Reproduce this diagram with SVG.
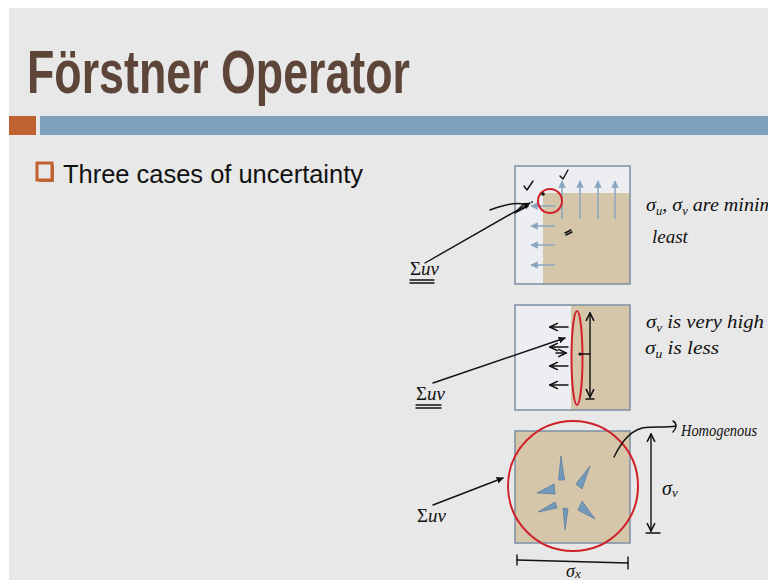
<svg xmlns="http://www.w3.org/2000/svg" width="768" height="580" viewBox="0 0 768 580">
<defs>
<style>
.panel{stroke:#7b8ea3;stroke-width:1.5}
.tan{fill:#d5c6aa}
.light{fill:#eceef1}
.blue{stroke:#8aa5bf;stroke-width:1.5;fill:none}
.ink{stroke:#111;stroke-width:1.4;fill:none;stroke-linecap:round;stroke-linejoin:round}
.red{stroke:#d0202a;stroke-width:2;fill:none}
.tri{fill:#7399bb;stroke:#5d7f9e;stroke-width:0.8}
.hand{font-family:"Liberation Serif",serif;font-style:italic;fill:#111}
.sig{font-family:"Liberation Serif",serif;fill:#111;font-size:19px}
</style>
<marker id="bh" viewBox="0 0 10 10" refX="9" refY="5" markerWidth="5" markerHeight="5" orient="auto-start-reverse">
<path d="M0,0 L10,5 L0,10 z" fill="#8aa5bf"/>
</marker>
<marker id="kh" viewBox="0 0 10 10" refX="9" refY="5" markerWidth="5" markerHeight="5" orient="auto-start-reverse">
<path d="M0,0 L10,5 L0,10 z" fill="#111"/>
</marker>
<marker id="ko" viewBox="0 0 10 10" refX="9" refY="5" markerWidth="7" markerHeight="7" orient="auto-start-reverse">
<path d="M1,1 L9,5 L1,9" fill="none" stroke="#111" stroke-width="1.6"/>
</marker>
</defs>
<rect width="768" height="580" fill="#ffffff"/>
<rect x="9" y="8" width="759" height="572" fill="#e8e8e8"/>

<g id="title">
<text x="27" y="93" font-family="'Liberation Sans Narrow','Liberation Sans',sans-serif" font-weight="bold" font-size="62" fill="#5e4539" textLength="383" lengthAdjust="spacingAndGlyphs">Förstner Operator</text>
<rect x="9" y="116" width="27" height="19" fill="#c0622f"/>
<rect x="40" y="116" width="728" height="19" fill="#7fa0ba"/>
</g>

<g id="bullet">
<rect x="39" y="165" width="15" height="17" fill="#b9714a"/>
<rect x="37" y="163" width="15" height="17" fill="#e8e8e8" stroke="#c0622f" stroke-width="3"/>
<text x="63" y="183" font-family="'Liberation Sans',Arial,sans-serif" font-size="26" fill="#111" textLength="300" lengthAdjust="spacingAndGlyphs">Three cases of uncertainty</text>
</g>

<g id="case1">
<rect x="515" y="166" width="115" height="118" class="light"/>
<rect x="543" y="193" width="87" height="91" class="tan"/>
<rect x="515" y="166" width="115" height="118" class="panel" fill="none"/>
<line x1="562" y1="219" x2="562" y2="181" class="blue" marker-end="url(#bh)"/>
<line x1="580" y1="219" x2="580" y2="181" class="blue" marker-end="url(#bh)"/>
<line x1="598" y1="219" x2="598" y2="181" class="blue" marker-end="url(#bh)"/>
<line x1="615" y1="219" x2="615" y2="181" class="blue" marker-end="url(#bh)"/>
<line x1="555" y1="206" x2="531" y2="206" class="blue" marker-end="url(#bh)"/>
<line x1="555" y1="226" x2="531" y2="226" class="blue" marker-end="url(#bh)"/>
<line x1="555" y1="245" x2="531" y2="245" class="blue" marker-end="url(#bh)"/>
<line x1="555" y1="265" x2="531" y2="265" class="blue" marker-end="url(#bh)"/>
<circle cx="550" cy="201" r="12" class="red" stroke-width="2.4"/>
<circle cx="543" cy="194" r="1.8" fill="#111"/>
<circle cx="532" cy="202" r="0.9" fill="#111"/>
<path d="M524,186 L527,190 L533,181" class="ink"/>
<path d="M560,176 L563,179 L568,170" class="ink"/>
<path d="M565,233 L571,230 M566,235 L572,232" class="ink"/>
<path d="M490,210 C500,206 512,202 524,204 C520,207 517,211 515,213 C520,210 524,208 528,206" class="ink"/>
<text class="hand" font-size="19" x="646" y="211" textLength="128" lengthAdjust="spacingAndGlyphs">σ<tspan font-size="12" dy="4">u</tspan><tspan dy="-4">, σ</tspan><tspan font-size="12" dy="4">v</tspan><tspan dy="-4"> are minim</tspan></text>
<text class="hand" font-size="19" x="652" y="243">least</text>
</g>

<g id="case2">
<rect x="515" y="305" width="115" height="105" class="light"/>
<rect x="571" y="305" width="59" height="105" class="tan"/>
<rect x="515" y="305" width="115" height="105" class="panel" fill="none"/>
<ellipse cx="577" cy="358" rx="5.5" ry="47" class="red" stroke-width="2.2"/>
<line x1="590" y1="397" x2="590" y2="313" class="ink" marker-end="url(#ko)" marker-start="url(#ko)"/>
<line x1="580" y1="354" x2="590" y2="354" class="ink"/>
<circle cx="580" cy="354" r="1.6" fill="#111"/>
<path d="M586,399 L594,399" class="ink" stroke-width="2"/>
<line x1="568" y1="327" x2="550" y2="327" class="ink" marker-end="url(#ko)"/>
<line x1="568" y1="347" x2="550" y2="347" class="ink" marker-end="url(#ko)"/>
<line x1="556" y1="353" x2="566" y2="353" class="ink" marker-end="url(#ko)"/>
<line x1="568" y1="366" x2="550" y2="366" class="ink" marker-end="url(#ko)"/>
<line x1="568" y1="385" x2="550" y2="385" class="ink" marker-end="url(#ko)"/>
<text class="hand" font-size="19" x="646" y="328" textLength="118" lengthAdjust="spacingAndGlyphs">σ<tspan font-size="12" dy="4">v</tspan><tspan dy="-4"> is very high</tspan></text>
<text class="hand" font-size="19" x="645" y="354" textLength="74" lengthAdjust="spacingAndGlyphs">σ<tspan font-size="12" dy="4">u</tspan><tspan dy="-4"> is less</tspan></text>
</g>

<g id="case3">
<rect x="515" y="431" width="115" height="112" class="tan" stroke="#7b8ea3" stroke-width="1.5"/>
<circle cx="573" cy="486" r="65" class="red" stroke-width="2"/>
<polygon class="tri" points="561,456 558.5,480 564.5,480"/>
<polygon class="tri" points="590,466 576,484 582,489"/>
<polygon class="tri" points="537,493 554,484 555,494"/>
<polygon class="tri" points="538,512 555,502 557,508"/>
<polygon class="tri" points="565,530 563,508 568,509"/>
<polygon class="tri" points="595,519 578,510 582,501"/>
<path d="M614,457 C620,445 628,432 642,428 C655,426 665,428 676,426" class="ink"/>
<path d="M673,421 C677,423 677,428 673,432" class="ink"/>
<text class="hand" font-size="16" x="681" y="436" textLength="76" lengthAdjust="spacingAndGlyphs">Homogenous</text>
<line x1="651" y1="531" x2="651" y2="434" class="ink" marker-end="url(#ko)" marker-start="url(#ko)"/>
<line x1="646" y1="533" x2="660" y2="533" class="ink"/>
<text class="hand" font-size="20" x="662" y="495">σ<tspan font-size="13" dy="2">v</tspan></text>
<line x1="517" y1="560" x2="628" y2="563" class="ink"/>
<line x1="517" y1="555" x2="517" y2="565" class="ink"/>
<line x1="628" y1="557" x2="628" y2="569" class="ink"/>
<text class="hand" font-size="18" x="566" y="577">σ<tspan font-size="13" dy="1">x</tspan></text>
</g>

<g id="labels">
<text class="sig" x="410" y="275">Σ<tspan font-style="italic">uv</tspan></text>
<line x1="410" y1="280" x2="434" y2="280" class="ink" stroke-width="1"/>
<line x1="410" y1="283" x2="434" y2="283" class="ink" stroke-width="1"/>
<text class="sig" x="416" y="400">Σ<tspan font-style="italic">uv</tspan></text>
<line x1="416" y1="405" x2="441" y2="405" class="ink" stroke-width="1"/>
<line x1="416" y1="408" x2="441" y2="408" class="ink" stroke-width="1"/>
<text class="sig" x="417" y="522">Σ<tspan font-style="italic">uv</tspan></text>
</g>

<g id="connectors">
<line x1="425" y1="263" x2="530" y2="203" class="ink" stroke-width="1.2" marker-end="url(#kh)"/>
<line x1="433" y1="383" x2="565" y2="338" class="ink" stroke-width="1.2" marker-end="url(#kh)"/>
<line x1="433" y1="505" x2="503" y2="478" class="ink" stroke-width="1.2" marker-end="url(#kh)"/>
</g>
</svg>
